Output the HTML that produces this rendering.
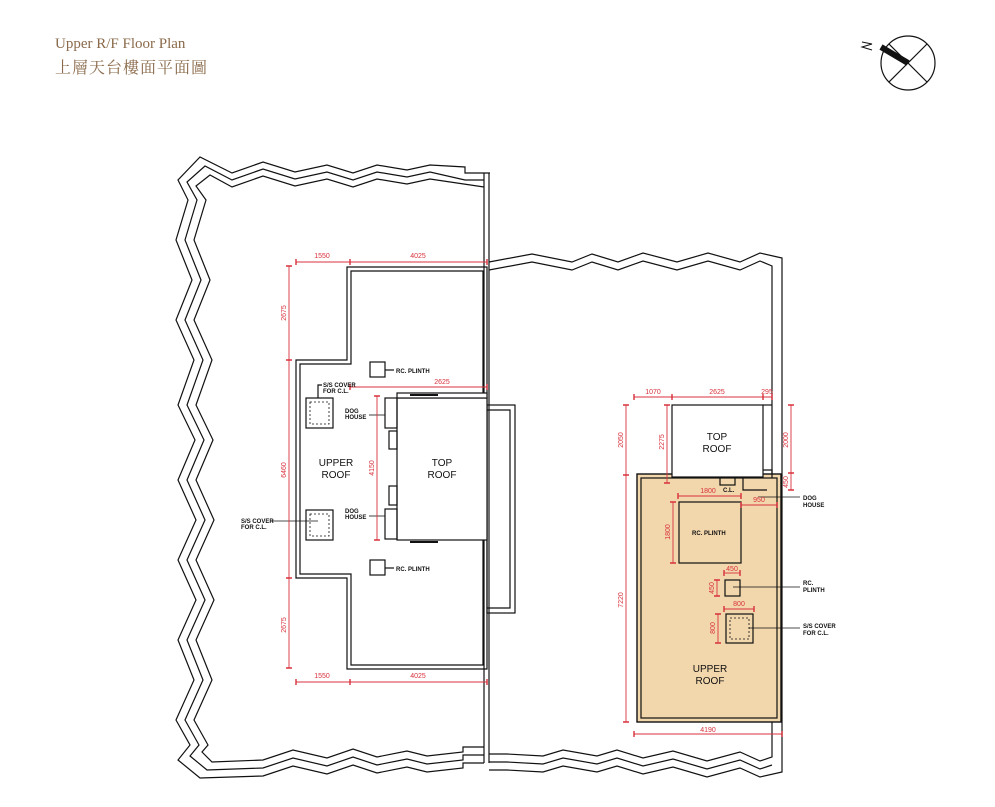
<!DOCTYPE html>
<html><head><meta charset="utf-8"><style>
html,body{margin:0;padding:0;background:#fff;}
.t{position:absolute;left:55px;color:#8a6a4a;font-family:"Liberation Serif","Noto Serif CJK SC",serif;}
</style></head><body>
<div style="position:relative;width:995px;height:807px;overflow:hidden;">
<div class="t" style="top:36px;font-size:15px;">Upper R/F Floor Plan</div>
<div class="t" style="top:55px;font-size:16px;letter-spacing:1px;">上層天台樓面平面圖</div>
<svg width="995" height="807" style="position:absolute;left:0;top:0" font-family="Liberation Sans, sans-serif">
<g fill="none" stroke="#111" stroke-width="1.2">
<!-- compass -->
<circle cx="908" cy="63" r="27"/>
<line x1="889" y1="44" x2="927" y2="82"/>
<line x1="927" y1="44" x2="889" y2="82"/>
<line x1="881" y1="47" x2="908" y2="63" stroke-width="6"/>
<polyline points="862,42 872,44 862,47 872,50" stroke-width="1"/>
<!-- left boundary -->
<polyline points="490,173 465,173 465,167 430,165 407,170 377,165 353,173 327,165 295,172 263,162 232,173 200,157 178,180 188,200 176,240 192,280 176,320 194,360 178,405 195,440 178,480 196,520 178,560 196,600 178,640 194,680 176,720 190,745 178,760 200,778 263,776 293,766 327,774 353,765 377,773 407,767 427,772 463,768 463,763 484,763"/>
<polyline points="484,180 465,180 430,172 407,177 377,172 353,180 327,172 295,179 263,169 232,180 205,166 187,182 197,200 185,240 201,280 185,320 203,360 187,405 204,440 187,480 205,520 187,560 205,600 187,640 203,680 185,720 199,745 190,756 207,770 263,768 293,758 327,766 353,757 377,765 407,759 427,764 463,760 463,755 484,755"/>
<polyline points="484,187 430,179 407,184 377,179 353,187 327,179 295,186 263,176 232,187 210,175 196,186 206,200 194,240 210,280 194,320 212,360 196,405 213,440 196,480 214,520 196,560 214,600 196,640 212,680 194,720 208,745 202,752 212,762 263,760 293,750 327,758 353,749 377,757 407,751 427,756 463,752 463,747 484,747"/>
<line x1="484" y1="173" x2="484" y2="763"/><line x1="489" y1="173" x2="489" y2="763"/>
<!-- right boundary -->
<polyline points="489,262 532,254 572,262 592,254 618,262 643,253 677,262 708,253 740,262 760,253 782,258 782,772 760,777 740,768 707,777 673,767 643,774 617,766 597,772 563,766 543,772 507,770 489,770"/>
<polyline points="489,270 532,262 572,270 592,262 618,270 643,261 677,270 708,261 740,270 760,261 772,266 772,757 760,761 740,752 707,761 673,751 643,758 617,750 597,756 563,750 543,756 507,754 489,754"/>
<polyline points="489,762 507,762 543,764 563,758 597,764 617,758 643,766 673,759 707,769 740,760 760,769 772,765"/>
<!-- left building -->
<polygon points="347,267 487,267 487,669 347,669 347,578 296,578 296,360 347,360"/>
<polygon points="351,271 483,271 483,665 351,665 351,574 300,574 300,364 351,364"/>
<rect x="487" y="405" width="28" height="208"/>
<polyline points="487,410 510,410 510,608 487,608"/>
<rect x="397" y="398" width="90" height="142" fill="#fff"/>
<rect x="397" y="393" width="90" height="5" fill="#fff"/>
<line x1="410" y1="395" x2="438" y2="395" stroke-width="2"/>
<line x1="410" y1="542" x2="438" y2="542" stroke-width="2"/>
<rect x="385" y="398" width="12" height="30"/><rect x="385" y="509" width="12" height="30"/>
<rect x="389" y="431" width="8" height="18"/><rect x="389" y="486" width="8" height="19"/>
<rect x="370" y="362" width="15" height="15"/><rect x="370" y="560" width="15" height="15"/>
<rect x="306" y="398" width="27" height="30"/><rect x="306" y="510" width="27" height="30"/>
<rect x="310" y="402" width="19" height="22" stroke-dasharray="2,2" stroke-width="0.8"/>
<rect x="310" y="514" width="19" height="22" stroke-dasharray="2,2" stroke-width="0.8"/>
<polyline points="385,370 394,370" /><polyline points="385,568 394,568"/>
<polyline points="318,398 318,385 322,385"/>
<line x1="270" y1="521" x2="318" y2="521" stroke-width="0.8"/>
<line x1="369" y1="415" x2="385" y2="415" stroke-width="0.8"/>
<line x1="369" y1="516" x2="385" y2="516" stroke-width="0.8"/>
<!-- right building -->
<rect x="637" y="474" width="144" height="248" fill="#f2d6ac" stroke-width="1.4"/>
<rect x="641" y="478" width="136" height="240"/>
<rect x="672" y="405" width="91" height="72" fill="#fff"/>
<polyline points="763,405 772,405"/>
<polyline points="763,470 772,470 772,478"/>
<rect x="720" y="478" width="15" height="7" fill="#f2d6ac"/>
<polyline points="743,478 743,490 767,490"/>
<line x1="758" y1="497" x2="800" y2="497" stroke-width="0.8"/>
<rect x="679" y="502" width="62" height="61"/>
<rect x="725" y="580" width="15" height="16"/>
<line x1="733" y1="587" x2="800" y2="587" stroke-width="0.8"/>
<rect x="726" y="614" width="27" height="29"/>
<rect x="730" y="618" width="19" height="21" stroke-dasharray="2,2" stroke-width="0.8"/>
<line x1="749" y1="628" x2="800" y2="628" stroke-width="0.8"/>
</g>
<!-- dims -->
<g stroke="#d8313c" stroke-width="0.9" fill="none">
<line x1="296" y1="262" x2="487" y2="262"/><line x1="296" y1="682" x2="487" y2="682"/>
<line x1="289" y1="266" x2="289" y2="668"/>
<line x1="350" y1="387" x2="487" y2="387"/>
<line x1="377" y1="396" x2="377" y2="540"/>
<line x1="634" y1="397" x2="772" y2="397"/>
<line x1="626" y1="405" x2="626" y2="722"/>
<line x1="667" y1="405" x2="667" y2="483"/>
<line x1="791" y1="405" x2="791" y2="490"/>
<line x1="678" y1="496" x2="741" y2="496"/>
<line x1="741" y1="505" x2="777" y2="505"/>
<line x1="673" y1="502" x2="673" y2="563"/>
<line x1="724" y1="573" x2="740" y2="573"/>
<line x1="717" y1="580" x2="717" y2="596"/>
<line x1="724" y1="609" x2="754" y2="609"/>
<line x1="718" y1="614" x2="718" y2="643"/>
<line x1="634" y1="734" x2="782" y2="734"/>
<g stroke-width="1.4">
<path d="M296,259v6M350,259v6M487,259v6M296,679v6M350,679v6M487,679v6M286,266h6M286,360h6M286,578h6M286,668h6M350,384v6M487,384v6M374,396h6M374,540h6M634,394v6M672,394v6M763,394v6M772,394v6M623,405h6M623,475h6M623,722h6M664,405h6M664,483h6M788,405h6M788,473h6M788,490h6M678,493v6M741,493v6M741,502v6M777,502v6M670,502h6M670,563h6M724,570v6M740,570v6M714,580h6M714,596h6M724,606v6M754,606v6M715,614h6M715,643h6M634,731v6M782,731v6"/>
</g></g>
<g fill="#d8313c" font-size="7" text-anchor="middle">
<text x="322" y="258">1550</text><text x="418" y="258">4025</text>
<text x="322" y="678">1550</text><text x="418" y="678">4025</text>
<text x="442" y="384">2625</text>
<text x="653" y="394">1070</text><text x="717" y="394">2625</text><text x="767" y="394">295</text>
<text x="708" y="493">1800</text><text x="759" y="502">950</text>
<text x="732" y="571">450</text><text x="739" y="606">800</text>
<text x="708" y="732">4190</text>
<text transform="translate(286,313) rotate(-90)">2675</text>
<text transform="translate(286,470) rotate(-90)">6460</text>
<text transform="translate(286,625) rotate(-90)">2675</text>
<text transform="translate(374,468) rotate(-90)">4150</text>
<text transform="translate(623,440) rotate(-90)">2050</text>
<text transform="translate(623,600) rotate(-90)">7220</text>
<text transform="translate(664,442) rotate(-90)">2275</text>
<text transform="translate(788,440) rotate(-90)">2000</text>
<text transform="translate(788,482) rotate(-90)">450</text>
<text transform="translate(670,532) rotate(-90)">1800</text>
<text transform="translate(714,588) rotate(-90)">450</text>
<text transform="translate(715,628) rotate(-90)">800</text>
</g>
<g fill="#111" font-size="6" font-weight="bold">
<text x="396" y="373">RC. PLINTH</text><text x="396" y="571">RC. PLINTH</text>
<text x="323" y="387">S/S COVER</text><text x="323" y="393">FOR C.L.</text>
<text x="241" y="523">S/S COVER</text><text x="241" y="529">FOR C.L.</text>
<text x="345" y="413">DOG</text><text x="345" y="419">HOUSE</text>
<text x="345" y="513">DOG</text><text x="345" y="519">HOUSE</text>
<text x="692" y="535">RC. PLINTH</text>
<text x="723" y="492">C.L.</text>
<text x="803" y="500">DOG</text><text x="803" y="507">HOUSE</text>
<text x="803" y="585">RC.</text><text x="803" y="592">PLINTH</text>
<text x="803" y="628">S/S COVER</text><text x="803" y="635">FOR C.L.</text>
</g>
<g fill="#111" font-size="10" text-anchor="middle">
<text x="336" y="466">UPPER</text><text x="336" y="478">ROOF</text>
<text x="442" y="466">TOP</text><text x="442" y="478">ROOF</text>
<text x="717" y="440">TOP</text><text x="717" y="452">ROOF</text>
<text x="710" y="672">UPPER</text><text x="710" y="684">ROOF</text>
</g>
</svg>
</div>
</body></html>
